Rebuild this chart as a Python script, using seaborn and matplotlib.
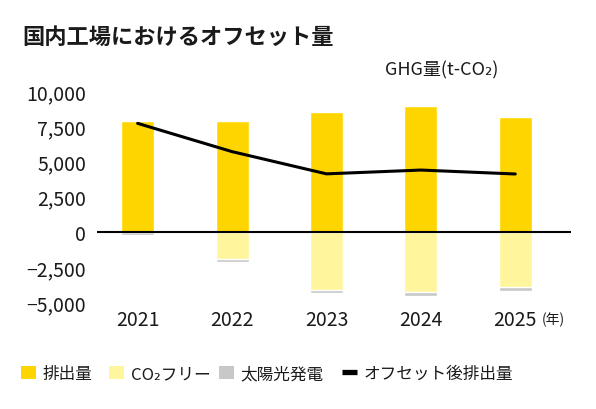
import numpy as np
import matplotlib
matplotlib.use("Agg")
import matplotlib.pyplot as plt
import matplotlib.ticker as mticker
from matplotlib.patches import Patch
from matplotlib.lines import Line2D
import seaborn as sns

sns.set_theme(style="white")
plt.rcParams['font.family'] = ['Noto Sans CJK JP', 'DejaVu Sans']

years = ["2021", "2022", "2023", "2024", "2025"]
emission = [7900, 7900, 8540, 8900, 8120]
co2_free = [0, 1970, 4170, 4310, 3955]
solar = [250, 190, 210, 280, 285]
offset_after = [7700, 5690, 4110, 4380, 4100]

c_emis = "#FFD500"
c_free = "#FFF59D"
c_solar = "#C8C8C8"
txt = "#1a1a1a"

fig = plt.figure(figsize=(5.96, 4.10), dpi=100)
ax = fig.add_axes([0.1628, 0.261, 0.958 - 0.1628, 0.7756 - 0.261])

neg_total = [-(f + s) for f, s in zip(co2_free, solar)]
neg_free = [-f for f in co2_free]

# gray (solar) sits under the light-yellow part, drawn first
sns.barplot(x=years, y=neg_total, color=c_solar, width=0.35, saturation=1, ax=ax)
sns.barplot(x=years, y=neg_free, color=c_free, width=0.35, saturation=1, ax=ax)
sns.barplot(x=years, y=emission, color=c_emis, width=0.35, saturation=1, ax=ax)
sns.lineplot(x=np.arange(len(years)), y=offset_after, color="black", linewidth=2.2, ax=ax, zorder=5)
ax.axhline(0, color="black", linewidth=1.5, zorder=6)

ax.set_xlim(-0.43, 4.59)
ax.set_ylim(-5000, 10000)
ax.set_yticks([-5000, -2500, 0, 2500, 5000, 7500, 10000])
ax.yaxis.set_major_formatter(mticker.FuncFormatter(lambda v, p: f"{int(v):,}".replace("-", "\u2212")))
ax.tick_params(axis="both", length=0, labelsize=14, colors=txt)
ax.tick_params(axis="y", pad=8)
ax.tick_params(axis="x", pad=5)
ax.set_xlabel("")
ax.set_ylabel("")
for s in ax.spines.values():
    s.set_visible(False)

ax.text(4.28, -5650, "(年)", fontsize=10, va="top", ha="left", color=txt)

fig.text(0.037, 0.91, "国内工場におけるオフセット量", fontsize=16, fontweight="bold",
         ha="left", va="center", color=txt)
fig.text(0.836, 0.829, "GHG量(t-CO₂)", fontsize=13, ha="right", va="center", color=txt)

handles = [
    Patch(facecolor=c_emis, edgecolor="none"),
    Patch(facecolor=c_free, edgecolor="none"),
    Patch(facecolor=c_solar, edgecolor="none"),
    Line2D([0], [0], color="black", linewidth=3.8, solid_capstyle="butt"),
]
labels = ["排出量", "CO₂フリー", "太陽光発電", "オフセット後排出量"]
legend_x = [21, 109, 219, 342]
for h, l, x in zip(handles, labels, legend_x):
    leg = fig.legend([h], [l], loc="center left", bbox_to_anchor=(x / 596, 0.086),
                     frameon=False, fontsize=12, handlelength=0.9, handleheight=0.9,
                     handletextpad=0.4, borderpad=0, borderaxespad=0)
    for t in leg.get_texts():
        t.set_color(txt)

fig.savefig("out.png", dpi=100)
